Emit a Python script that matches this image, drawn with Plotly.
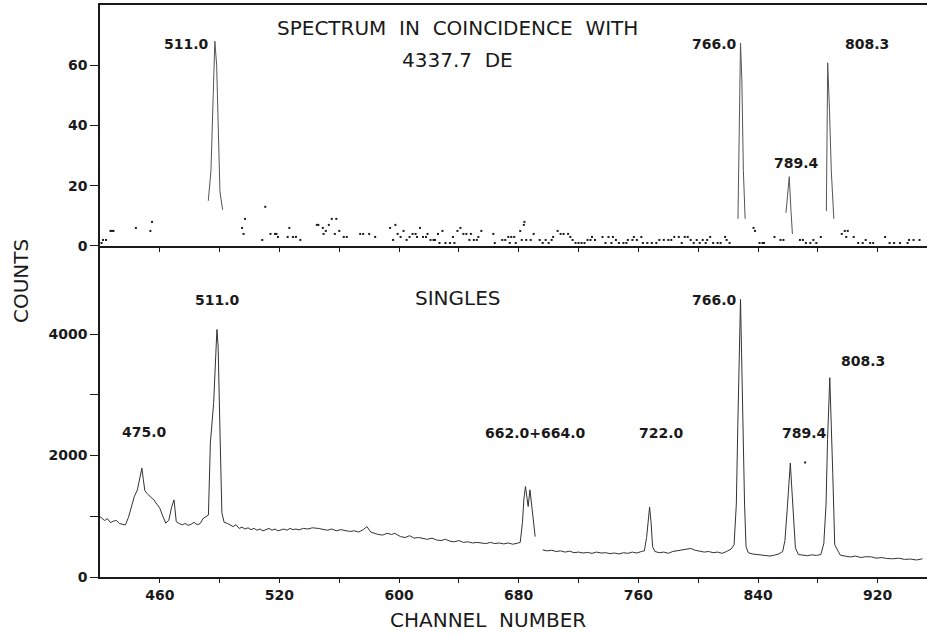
import plotly.graph_objects as go

# ---------------- data ----------------
# Top panel: spectrum in coincidence with 4337.7 DE
coinc_peak_511_ch = [472.4, 474.2, 475.7, 476.8, 478.0, 479.0, 480.2, 482.0]
coinc_peak_511_ct = [15, 25, 50, 68, 60, 38, 18, 12]
coinc_peak_766_ch = [826.6, 827.5, 828.3, 829.2, 830.2, 831.4]
coinc_peak_766_ct = [9, 40, 67.4, 55, 25, 9]
coinc_peak_789_ch = [858.7, 860.0, 860.9, 862.0, 863.0]
coinc_peak_789_ct = [11, 20, 23, 12, 4]
coinc_peak_808_ch = [885.7, 886.6, 887.8, 889.0, 890.7]
coinc_peak_808_ct = [11.6, 60.8, 45, 25, 9]

coinc_bg_ch = [401, 402, 404, 407, 408, 409, 424, 433.7, 434.8, 495, 496, 497, 508.5, 510.5,
               514, 517, 518, 519, 525.5, 526.6, 529, 531, 534, 545, 546, 549, 549.5, 551, 553,
               555, 557, 558, 560, 563, 565, 574, 576, 580, 584, 594, 596, 597.5, 599, 601, 603,
               605, 607, 609, 611, 612, 614, 616, 618, 619, 621, 623, 624, 626, 627, 629, 631,
               634, 636, 637, 639, 641, 643, 645, 647, 648, 650, 652, 653, 655, 663, 664, 669,
               671, 673, 674, 675, 677, 678, 681, 682, 683.4, 683.8, 685, 688, 690, 694, 696,
               698, 700, 702, 703, 706, 708, 710, 713, 714.5, 716, 718, 720, 722, 724, 726, 728,
               729, 731, 736, 738, 740, 742, 743, 745, 747, 750, 752, 753, 756, 757, 759, 762,
               763, 766, 769, 772, 774, 777, 780, 782, 784, 787, 789, 791, 793, 795, 797, 799,
               801, 803, 805, 806, 808, 810, 813, 815, 818, 819, 821, 837, 838, 841, 843, 844,
               851, 855, 857, 868, 870, 872, 875, 877, 879, 882, 896, 898, 899, 900, 904, 907,
               910, 912, 915, 917, 925, 928, 931, 935, 940, 941, 944, 948]
coinc_bg_ct = [1, 2, 2, 5, 5, 5, 6, 5, 8, 6, 4, 9, 2, 13,
               4, 4, 4, 3, 3, 6, 3, 3, 2, 7, 7, 6, 4, 5, 7,
               9, 4, 9, 5, 3, 3, 4, 4, 4, 3, 6, 2, 7, 4, 3, 5,
               2, 3, 4, 4, 3, 6, 3, 3, 4, 2, 2, 2, 4, 1, 5, 1,
               1, 3, 1, 5, 6, 4, 4, 2, 4, 2, 2, 3, 5, 4, 1, 2,
               2, 3, 1, 3, 3, 1, 5, 2, 7, 8, 2, 2, 4, 2, 1,
               2, 1, 2, 3, 5, 4, 4, 4, 3, 2, 1, 1, 1, 1, 2, 2,
               3, 2, 3, 1, 3, 1, 3, 2, 1, 1, 1, 2, 2, 3, 2, 3,
               1, 1, 1, 1, 2, 2, 2, 2, 3, 3, 1, 3, 3, 2, 1, 2,
               1, 2, 1, 2, 3, 1, 1, 1, 3, 2, 1, 6, 5, 1, 1, 1,
               3, 2, 2, 2, 2, 1, 1, 2, 1, 3, 4, 5, 3, 5, 3, 1,
               1, 2, 1, 1, 3, 1, 1, 1, 1, 2, 2, 2]

# Bottom panel: singles spectrum (None = gap in the trace)
singles_ch = [400, 403, 405, 407, 409, 411, 413, 415, 417, 419, 421, 423, 425, 427, 428, 429, 430,
              432, 434, 436, 438, 440, 442, 444, 446, 448, 449.5, 451, 453, 455, 457, 459, 461,
              463, 465, 467, 469, 471, 472.5, 473.8, 476, 477.5, 478.2, 479, 479.6, 480.4, 481.5,
              483, 485, 487, 489, 491, 493, 495, 497, 499, 501, 503, 505, 507, 509, 511, 513,
              515, 517, 519, 521, 523, 525, 527, 529, 531, 533, 536, 539, 542, 546, 549, 552,
              555, 558, 561, 564, 567, 570, 573, 576, 578.5, 581, 584, 586, 589, 592, 595, 597,
              601, 604, 607, 610, 613, 616, 619, 622, 625, 628, 631, 634, 637, 640, 643, 646,
              649, 652, 655, 658, 661, 664, 667, 670, 673, 676, 679, 681, 682.5, 683.5, 684.5,
              685.5, 686.3, 687.5, 688.5, 690, 691, None, 696, 699, 702, 705, 708, 711, 714,
              717, 720, 723, 726, 729, 732, 735, 738, 741, 744, 747, 750, 753, 756, 759, 762,
              764, 765.5, 766.7, 767.5, 768.5, 769.5, 771, 774, 777, 780, 783, 786, 789, 792,
              795, 798, 801, 804, 807, 810, 813, 816, 819, 822, 824, 825.5, 826.5, 827.5, 828.3,
              829, 830, 831, 832, 833.5, 836, 839, 842, 845, 848, 851, 854, 856.5, 858, 859.5,
              860.5, 861.6, 862.5, 863.5, 865, 867, 870, 873, 876, 879, 882, 884, 885.5, 886.5,
              888, 889, 890, 891.3, 895, 899, 902, 905, 909, 912, 916, 919, 923, 926, 930, 934,
              938, 942, 946, 950]
singles_ct = [995, 930, 960, 896, 920, 930, 880, 870, 858, 980, 1160, 1330, 1435, 1700, 1793, 1600, 1420,
              1360, 1320, 1270, 1200, 1133, 1000, 886, 935, 1160, 1270, 910, 880, 860, 880, 850, 870,
              900, 860, 880, 965, 1000, 1020, 2206, 2870, 3700, 4075, 3800, 3250, 2206, 1056,
              900, 885, 850, 830, 860, 800, 820, 790, 810, 780, 800, 770, 790, 760, 780, 800,
              770, 790, 760, 780, 790, 770, 800, 780, 790, 776, 800, 790, 810, 800, 780, 770,
              790, 760, 780, 770, 750, 760, 740, 780, 830, 740, 710, 700, 690, 720, 700, 720,
              665, 650, 680, 640, 650, 630, 620, 640, 610, 600, 620, 590, 580, 600, 570, 580,
              560, 570, 560, 550, 570, 550, 560, 545, 560, 540, 555, 570, 900, 1300, 1490,
              1300, 1160, 1435, 1200, 850, 665, None, 446, 430, 440, 420, 430, 410, 425,
              400, 410, 395, 405, 390, 410, 395, 400, 385, 395, 380, 400, 390, 410, 395, 420,
              430, 650, 1000, 1150, 900, 500, 420, 400, 410, 390, 420, 430, 440, 455,
              470, 440, 430, 410, 420, 400, 410, 390, 420, 460, 530, 1200, 2500, 3800, 4570,
              3700, 2300, 1200, 500, 400, 380, 370, 360, 350, 345, 360, 380, 420, 600, 1100,
              1500, 1876, 1500, 1000, 480, 370, 360, 350, 365, 355, 370, 550, 1200, 2260,
              3280, 2600, 1700, 530, 360, 340, 330, 345, 320, 335, 330, 310, 320, 305, 300, 310,
              290, 295, 280, 300]
singles_stray_ch = [871.5]
singles_stray_ct = [1886]

x_tick_vals = [440, 480, 520, 560, 600, 640, 680, 720, 760, 800, 840, 880, 920]
x_tick_text = ["460", "", "520", "", "600", "", "680", "", "760", "", "840", "", "920"]
top_y_ticks = [0, 20, 40, 60]
bot_y_ticks = [0, 1000, 2000, 3000, 4000]
bot_y_text = ["0", "", "2000", "", "4000"]

# ---------------- figure ----------------
INK = "#1a1a1a"
LINE = "#555555"
FONT = "DejaVu Sans"

fig = go.Figure()

def seg(chs, cts):
    return list(chs) + [None], list(cts) + [None]

px, py = [], []
for c, v in [(coinc_peak_511_ch, coinc_peak_511_ct), (coinc_peak_766_ch, coinc_peak_766_ct),
             (coinc_peak_789_ch, coinc_peak_789_ct), (coinc_peak_808_ch, coinc_peak_808_ct)]:
    a, b = seg(c, v)
    px += a
    py += b

fig.add_trace(go.Scatter(x=px, y=py, mode="lines", line=dict(color=LINE, width=1),
                         xaxis="x", yaxis="y", showlegend=False, connectgaps=False))
fig.add_trace(go.Scatter(x=coinc_bg_ch, y=coinc_bg_ct, mode="markers",
                         marker=dict(symbol="square", size=2, color=INK),
                         xaxis="x", yaxis="y", showlegend=False))
fig.add_trace(go.Scatter(x=singles_ch, y=singles_ct, mode="lines",
                         line=dict(color="#333333", width=1),
                         xaxis="x2", yaxis="y2", showlegend=False, connectgaps=False))
fig.add_trace(go.Scatter(x=singles_stray_ch, y=singles_stray_ct, mode="markers",
                         marker=dict(symbol="square", size=2, color=INK),
                         xaxis="x2", yaxis="y2", showlegend=False))

split = 0.5787
tickfont = dict(family=FONT, size=14, color=INK, weight="bold")
axis_common = dict(showgrid=False, zeroline=False, showline=True, linecolor=INK, linewidth=1.5,
                   tickcolor=INK, ticks="outside")

fig.update_layout(
    width=927, height=637, autosize=False,
    margin=dict(l=100, r=0, t=5, b=60),
    paper_bgcolor="white", plot_bgcolor="white",
    xaxis=dict(**axis_common, domain=[0, 1], range=[400, 953], anchor="y", mirror=True,
               tickvals=x_tick_vals, ticktext=[""] * len(x_tick_vals), ticklen=4,
               showticklabels=False),
    yaxis=dict(**axis_common, domain=[split, 1], range=[0, 80], anchor="x",
               tickvals=top_y_ticks, ticklen=8, tickfont=tickfont),
    xaxis2=dict(**axis_common, domain=[0, 1], range=[400, 953], anchor="y2",
                tickvals=x_tick_vals, ticktext=x_tick_text, ticklen=4, tickfont=tickfont),
    yaxis2=dict(**axis_common, domain=[0, split], range=[0, 5450], anchor="x2",
                tickvals=bot_y_ticks, ticktext=bot_y_text, ticklen=8, tickfont=tickfont),
)

lab = dict(family=FONT, size=14, color=INK, weight="bold")
big = dict(family=FONT, size=20, color=INK)

annots = [
    # top panel
    dict(x=639, y=72.5, xref="x", yref="y", text="SPECTRUM\u00a0 IN\u00a0 COINCIDENCE\u00a0 WITH", font=big),
    dict(x=639, y=61.6, xref="x", yref="y", text="4337.7\u00a0 DE", font=big),
    dict(x=457.7, y=67.2, xref="x", yref="y", text="511.0", font=lab),
    dict(x=810.7, y=67.2, xref="x", yref="y", text="766.0", font=lab),
    dict(x=913, y=67.2, xref="x", yref="y", text="808.3", font=lab),
    dict(x=865.4, y=27.5, xref="x", yref="y", text="789.4", font=lab),
    # bottom panel
    dict(x=478.4, y=4563, xref="x2", yref="y2", text="511.0", font=lab),
    dict(x=639.5, y=4596, xref="x2", yref="y2", text="SINGLES", font=big),
    dict(x=810.7, y=4563, xref="x2", yref="y2", text="766.0", font=lab),
    dict(x=910.3, y=3558, xref="x2", yref="y2", text="808.3", font=lab),
    dict(x=429.6, y=2389, xref="x2", yref="y2", text="475.0", font=lab),
    dict(x=691, y=2372, xref="x2", yref="y2", text="662.0+664.0", font=lab),
    dict(x=775.2, y=2372, xref="x2", yref="y2", text="722.0", font=lab),
    dict(x=870.8, y=2372, xref="x2", yref="y2", text="789.4", font=lab),
    # axis titles
    dict(x=-0.0955, y=0.5175, xref="paper", yref="paper", text="COUNTS", textangle=-90, font=big),
    dict(x=0.469, y=-0.0752, xref="paper", yref="paper", text="CHANNEL\u00a0 NUMBER", font=big),
]
for a in annots:
    a.setdefault("showarrow", False)
    a.setdefault("xanchor", "center")
    a.setdefault("yanchor", "middle")
fig.update_layout(annotations=annots)

fig.write_html("out.html")
